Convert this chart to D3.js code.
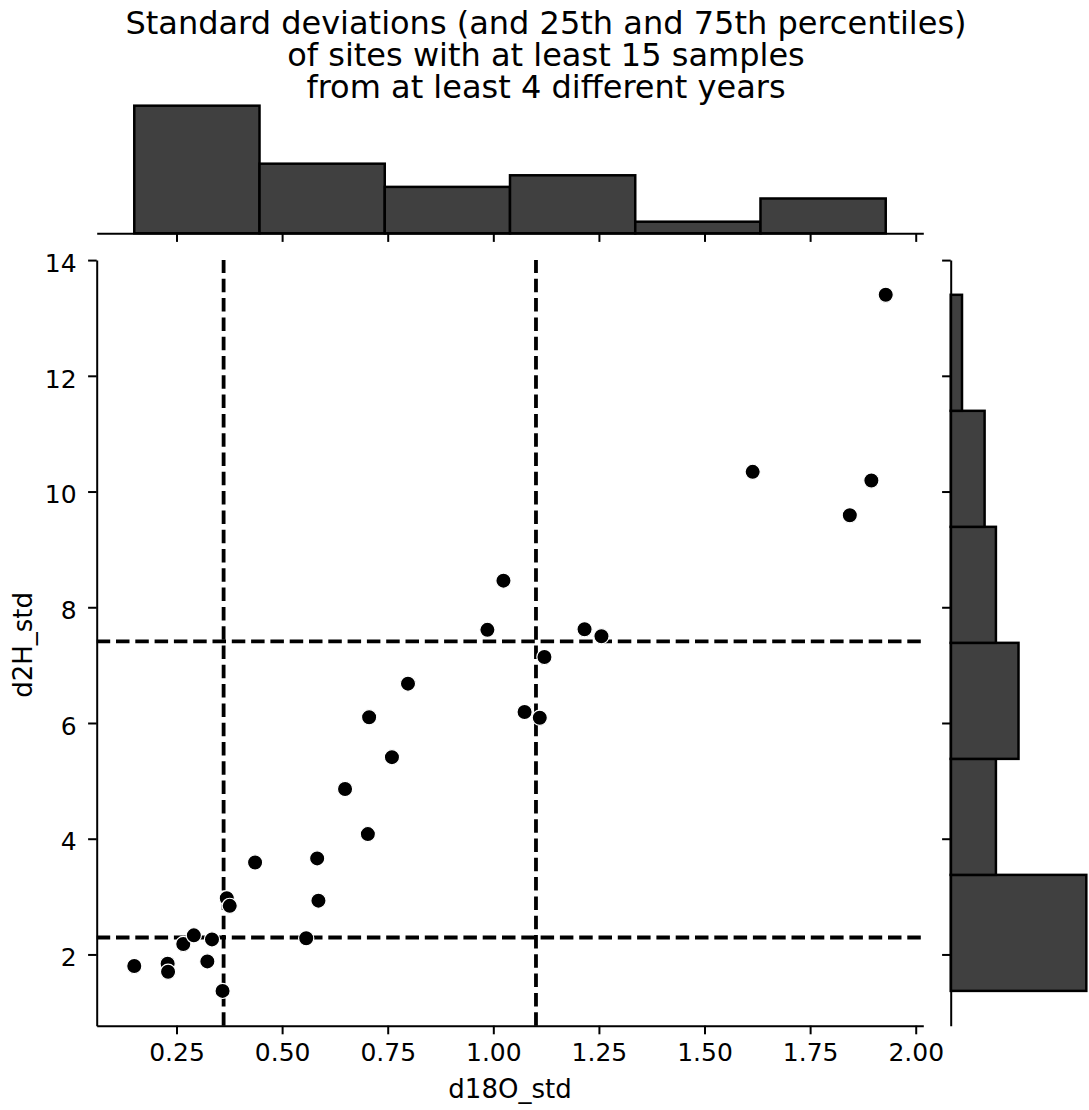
<!DOCTYPE html>
<html>
<head>
<meta charset="utf-8">
<script src="https://cdn.jsdelivr.net/npm/d3@7"></script>
<style>
  body { margin: 0; background: #fff; }
  svg { display: block; }
  text { font-family: "DejaVu Sans", sans-serif; fill: #000; }
</style>
</head>
<body>
<svg id="chart" width="1089" height="1110"></svg>
<script>
// Per-site standard deviations of the isotope ratios
const d18O_std = [0.150, 0.229, 0.230, 0.266, 0.291, 0.334, 0.323, 0.359, 0.369, 0.376,
                  0.436, 0.583, 0.586, 0.557, 0.706, 0.649, 0.703, 0.760, 0.798, 0.986,
                  1.024, 1.074, 1.110, 1.121, 1.216, 1.256, 1.614, 1.844, 1.895, 1.929];
const d2H_std  = [1.80, 1.84, 1.70, 2.18, 2.33, 2.26, 1.88, 1.37, 2.97, 2.84,
                  3.59, 3.66, 2.93, 2.28, 6.10, 4.86, 4.08, 5.41, 6.68, 7.61,
                  8.46, 6.19, 6.09, 7.14, 7.62, 7.50, 10.34, 9.59, 10.19, 13.40];

const xTicks = [0.25, 0.50, 0.75, 1.00, 1.25, 1.50, 1.75, 2.00];
const yTicks = [2, 4, 6, 8, 10, 12, 14];
const titleLines = [
  "Standard deviations (and 25th and 75th percentiles)",
  "of sites with at least 15 samples",
  "from at least 4 different years"
];
const xLabel = "d18O_std";
const yLabel = "d2H_std";
const nBins = 6;

const svg = d3.select("#chart");

// Layout of the joint grid
const main = { left: 96.7, right: 923.3, top: 260, bottom: 1025.7 };
const margTopBase = 233.3, margTopHeight = 134;
const margRightBase = 950.7, margRightWidth = 142.4;

const padded = ext => { const p = (ext[1] - ext[0]) * 0.05; return [ext[0] - p, ext[1] + p]; };
const xExt = d3.extent(d18O_std), yExt = d3.extent(d2H_std);

const x = d3.scaleLinear().domain(padded(xExt)).range([main.left, main.right]);
const y = d3.scaleLinear().domain(padded(yExt)).range([main.bottom, main.top]);

// Histograms: equal-width bins over the data range
const binner = ext => d3.bin()
  .domain(ext)
  .thresholds(d3.range(1, nBins).map(i => ext[0] + i * (ext[1] - ext[0]) / nBins));
const xBins = binner(xExt)(d18O_std);
const yBins = binner(yExt)(d2H_std);

const cx = d3.scaleLinear().domain([0, d3.max(xBins, b => b.length) * 1.05])
  .range([margTopBase, margTopBase - margTopHeight]);
const cy = d3.scaleLinear().domain([0, d3.max(yBins, b => b.length) * 1.05])
  .range([margRightBase, margRightBase + margRightWidth]);

const barFill = "#404040", barStroke = "#000";

svg.append("g").selectAll("rect").data(xBins).join("rect")
  .attr("x", d => x(d.x0)).attr("width", d => x(d.x1) - x(d.x0))
  .attr("y", d => cx(d.length)).attr("height", d => cx(0) - cx(d.length))
  .attr("fill", barFill).attr("stroke", barStroke).attr("stroke-width", 2.5);

svg.append("g").selectAll("rect").data(yBins).join("rect")
  .attr("y", d => y(d.x1)).attr("height", d => y(d.x0) - y(d.x1))
  .attr("x", cy(0)).attr("width", d => cy(d.length) - cy(0))
  .attr("fill", barFill).attr("stroke", barStroke).attr("stroke-width", 2.5);

// Axes
const tickLen = 8.6, fontPx = 25, labelPx = 26;
function styleAxis(g) {
  g.selectAll(".domain").attr("stroke", "#000").attr("stroke-width", 2);
  g.selectAll(".tick line").attr("stroke", "#000").attr("stroke-width", 2);
  g.selectAll(".tick text").attr("font-size", fontPx).attr("fill", "#000");
}

svg.append("g").attr("transform", `translate(0,${main.bottom})`)
  .call(d3.axisBottom(x).tickValues(xTicks).tickFormat(d3.format(".2f"))
    .tickSize(tickLen).tickSizeOuter(0).tickPadding(8.6))
  .attr("font-family", null)
  .call(styleAxis);

svg.append("g").attr("transform", `translate(${main.left},0)`)
  .call(d3.axisLeft(y).tickValues(yTicks).tickFormat(d3.format("d"))
    .tickSize(tickLen).tickSizeOuter(0).tickPadding(11.5))
  .attr("font-family", null)
  .call(styleAxis)
  .call(g => g.selectAll(".tick text").attr("dy", "0.45em"));

// Marginal axes: ticks only
svg.append("g").attr("transform", `translate(0,${margTopBase})`)
  .call(d3.axisBottom(x).tickValues(xTicks).tickFormat("").tickSize(tickLen).tickSizeOuter(0))
  .call(styleAxis);

svg.append("g").attr("transform", `translate(${margRightBase},0)`)
  .call(d3.axisLeft(y).tickValues(yTicks).tickFormat("").tickSize(tickLen).tickSizeOuter(0))
  .call(styleAxis);

// 25th and 75th percentile guides
const dash = "13.5,5.8";
const xq = [0.25, 0.75].map(p => d3.quantile(d18O_std, p));
const yq = [0.25, 0.75].map(p => d3.quantile(d2H_std, p));

svg.append("g").selectAll("line").data(xq).join("line")
  .attr("x1", d => x(d)).attr("x2", d => x(d))
  .attr("y1", main.bottom).attr("y2", main.top)
  .attr("stroke", "#000").attr("stroke-width", 3.8).attr("stroke-dasharray", dash);

svg.append("g").selectAll("line").data(yq).join("line")
  .attr("y1", d => y(d)).attr("y2", d => y(d))
  .attr("x1", main.left).attr("x2", main.right)
  .attr("stroke", "#000").attr("stroke-width", 3.8).attr("stroke-dasharray", dash);

// Scatter of the sites
svg.append("g").selectAll("circle").data(d3.range(d18O_std.length)).join("circle")
  .attr("cx", i => x(d18O_std[i])).attr("cy", i => y(d2H_std[i]))
  .attr("r", 7.6).attr("fill", "#000").attr("stroke", "#fff").attr("stroke-width", 1.2);

// Axis labels
svg.append("text").attr("x", (main.left + main.right) / 2).attr("y", 1098)
  .attr("text-anchor", "middle").attr("font-size", labelPx).text(xLabel);
svg.append("text").attr("transform", `translate(32,${(main.top + main.bottom) / 2 + 2}) rotate(-90)`)
  .attr("text-anchor", "middle").attr("font-size", labelPx).text(yLabel);

// Title: one text block with a line per tspan
svg.append("text")
  .attr("x", 546).attr("y", 34)
  .attr("text-anchor", "middle").attr("font-size", 32)
  .selectAll("tspan").data(titleLines).join("tspan")
  .attr("x", 546).attr("dy", (d, i) => i === 0 ? 0 : 32)
  .text(d => d);
</script>
</body>
</html>
